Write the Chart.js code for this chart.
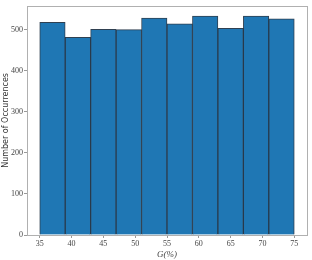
<!DOCTYPE html>
<html>
<head>
<meta charset="utf-8">
<script src="https://cdn.jsdelivr.net/npm/chart.js@4"></script>
<style>
  html, body { margin: 0; padding: 0; background: #fff; }
  #wrap { width: 312px; height: 260px; }
</style>
</head>
<body>
<div id="wrap"><canvas id="hist" width="312" height="260"></canvas></div>
<script>
// bin centres (bins of width 4 from 35 to 75) and counts
const binCenters = [37, 41, 45, 49, 53, 57, 61, 65, 69, 73];
const counts = [518, 481, 501, 500, 528, 514, 533, 503, 533, 526];
const xTicks = [35, 40, 45, 50, 55, 60, 65, 70, 75];
const yTicks = [0, 100, 200, 300, 400, 500];

const serif = "'Liberation Serif', 'DejaVu Serif', serif";

// light grey box round the plot area
const frame = {
  id: 'frame',
  afterDraw(chart) {
    const { ctx, chartArea: a } = chart;
    ctx.save();
    ctx.strokeStyle = '#b0b0b0';
    ctx.lineWidth = 1;
    ctx.strokeRect(Math.round(a.left) + 0.5, Math.round(a.top) + 0.5,
      Math.round(a.right - a.left), Math.round(a.bottom - a.top));
    ctx.restore();
  }
};

new Chart(document.getElementById('hist'), {
  type: 'bar',
  data: {
    datasets: [{
      data: binCenters.map((x, i) => ({ x, y: counts[i] })),
      backgroundColor: '#1f77b4',
      borderColor: 'rgba(10,30,50,0.85)',
      borderWidth: 1,
      barPercentage: 1,
      categoryPercentage: 1
    }]
  },
  options: {
    responsive: false,
    animation: false,
    layout: { padding: { top: 4, right: 5, left: 0, bottom: 0 } },
    plugins: { legend: { display: false }, tooltip: { enabled: false } },
    scales: {
      x: {
        type: 'linear',
        offset: false,
        min: 33, max: 77,
        afterBuildTicks: s => { s.ticks = xTicks.map(v => ({ value: v })); },
        afterFit: s => { s.height = 25; },
        grid: { offset: false, drawOnChartArea: false, drawTicks: true, tickLength: 3, color: '#999' },
        border: { display: false },
        ticks: { color: '#444', font: { family: serif, size: 8 }, padding: 1, maxRotation: 0 },
        title: { display: true, text: 'G(%)', color: '#444', font: { family: serif, size: 9, style: 'italic' }, padding: 0 }
      },
      y: {
        min: 0, max: 558,
        afterBuildTicks: s => { s.ticks = yTicks.map(v => ({ value: v })); },
        afterFit: s => { s.width = 27; },
        grid: { drawOnChartArea: false, drawTicks: true, tickLength: 3, color: '#999' },
        border: { display: false },
        ticks: { color: '#444', font: { family: serif, size: 8 }, padding: 1 },
        title: { display: true, text: 'Number of Occurrences', color: '#333', font: { family: "'DejaVu Sans', sans-serif", size: 8 }, padding: 1 }
      }
    }
  },
  plugins: [frame]
});
</script>
</body>
</html>
